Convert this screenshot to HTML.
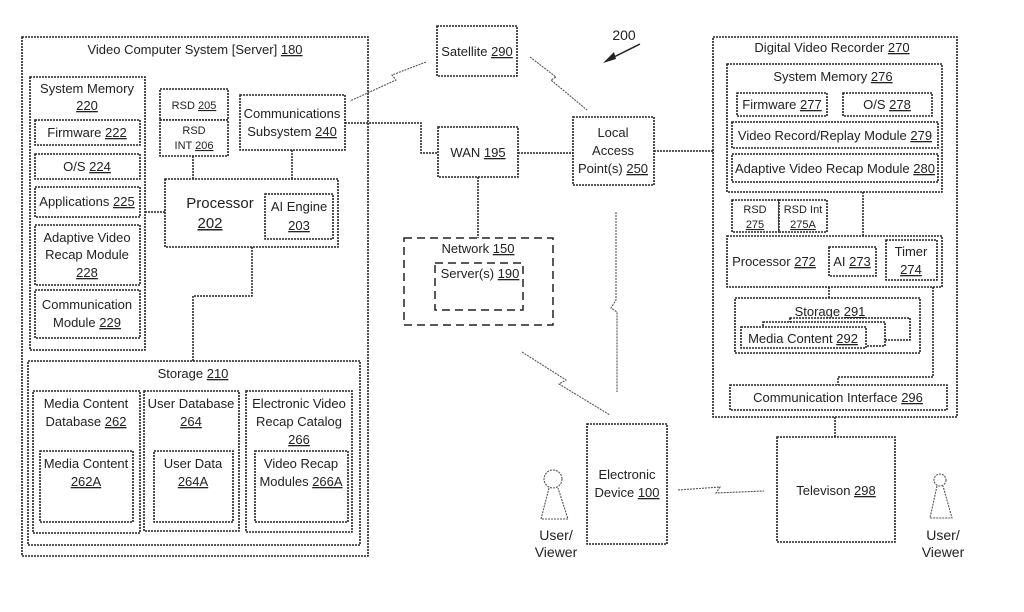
<!DOCTYPE html>
<html><head><meta charset="utf-8"><style>
html,body{margin:0;padding:0;background:#fff;}
svg{display:block;}
text{font-family:"Liberation Sans",sans-serif;font-size:13px;fill:#222;text-anchor:middle;}
.b{fill:#fff;stroke:#222;stroke-width:1.6;stroke-dasharray:2 1;}
.l{fill:none;stroke:#222;stroke-width:1.5;stroke-dasharray:2 1;}
.d{fill:none;stroke:#222;stroke-width:1.5;stroke-dasharray:8 5;}
.w{fill:none;stroke:#555;stroke-width:1.1;stroke-dasharray:2 1;}
</style></head><body>
<svg width="1024" height="612" viewBox="0 0 1024 612" xmlns="http://www.w3.org/2000/svg">
<rect class="b" x="22" y="37" width="346" height="519"/>
<text x="195" y="54">Video Computer System [Server] <tspan text-decoration="underline">180</tspan></text>
<rect class="b" x="30" y="77" width="115" height="273"/>
<text x="87" y="93">System Memory</text><text x="87" y="110" text-decoration="underline">220</text>
<rect class="b" x="35" y="120" width="105" height="25"/><text x="87" y="137">Firmware <tspan text-decoration="underline">222</tspan></text>
<rect class="b" x="35" y="154" width="105" height="25"/><text x="87" y="171">O/S <tspan text-decoration="underline">224</tspan></text>
<rect class="b" x="35" y="187" width="105" height="30"/><text x="87" y="206">Applications <tspan text-decoration="underline">225</tspan></text>
<rect class="b" x="35" y="225" width="105" height="60"/><text x="87" y="242">Adaptive Video</text><text x="87" y="259">Recap Module</text><text x="87" y="277" text-decoration="underline">228</text>
<rect class="b" x="35" y="290" width="105" height="48"/><text x="87" y="309">Communication</text><text x="87" y="327">Module <tspan text-decoration="underline">229</tspan></text>
<rect class="b" x="160" y="89" width="68" height="31"/><text x="194" y="109" style="font-size:11px">RSD <tspan text-decoration="underline">205</tspan></text>
<rect class="b" x="160" y="120" width="68" height="36"/><text x="194" y="134" style="font-size:11px">RSD</text><text x="194" y="149" style="font-size:11px">INT <tspan text-decoration="underline">206</tspan></text>
<rect class="b" x="240" y="95" width="105" height="55"/><text x="292" y="118">Communications</text><text x="292" y="136">Subsystem <tspan text-decoration="underline">240</tspan></text>
<rect class="b" x="165" y="179" width="173" height="68"/>
<text x="220" y="208" style="font-size:15px">Processor</text><text x="210" y="228" style="font-size:15px" text-decoration="underline">202</text>
<rect class="b" x="265" y="194" width="68" height="45"/><text x="299" y="211">AI Engine</text><text x="299" y="230" text-decoration="underline">203</text>
<path class="l" d="M193 156V179M292 150V179M145 212H165M252 247V296H193V361"/>
<rect class="b" x="28" y="361" width="332" height="184"/>
<text x="193" y="378">Storage <tspan text-decoration="underline">210</tspan></text>
<rect class="b" x="33" y="391" width="107" height="142"/><text x="86" y="408">Media Content</text><text x="86" y="426">Database <tspan text-decoration="underline">262</tspan></text>
<rect class="b" x="40" y="451" width="93" height="71"/><text x="86" y="468">Media Content</text><text x="86" y="486" text-decoration="underline">262A</text>
<rect class="b" x="144" y="391" width="95" height="140"/><text x="191" y="408">User Database</text><text x="191" y="426" text-decoration="underline">264</text>
<rect class="b" x="154" y="451" width="79" height="71"/><text x="193" y="468">User Data</text><text x="193" y="486" text-decoration="underline">264A</text>
<rect class="b" x="246" y="391" width="106" height="141"/><text x="299" y="408">Electronic Video</text><text x="299" y="426">Recap Catalog</text><text x="299" y="444" text-decoration="underline">266</text>
<rect class="b" x="255" y="451" width="93" height="71"/><text x="301" y="468">Video Recap</text><text x="301" y="486">Modules <tspan text-decoration="underline">266A</tspan></text>
<rect class="b" x="437" y="26" width="80" height="50"/><text x="477" y="56">Satellite <tspan text-decoration="underline">290</tspan></text>
<rect class="b" x="438" y="127" width="80" height="50"/><text x="478" y="157">WAN <tspan text-decoration="underline">195</tspan></text>
<rect class="b" x="573" y="117" width="81" height="68"/><text x="613" y="137">Local</text><text x="613" y="155">Access</text><text x="613" y="173">Point(s) <tspan text-decoration="underline">250</tspan></text>
<path class="l" d="M345 123H421V153H438M518 153H573M654 151H713M478 177V238"/>
<rect class="d" x="404" y="238" width="149" height="87"/><text x="478" y="253">Network <tspan text-decoration="underline">150</tspan></text>
<rect class="d" x="435" y="263" width="88" height="47"/><text x="480" y="278">Server(s) <tspan text-decoration="underline">190</tspan></text>
<text x="624" y="40" style="font-size:14px">200</text>
<path d="M640 44L608 60" stroke="#222" stroke-width="1.5"/><path d="M603 63L614 52L616 59Z" fill="#222"/>
<path class="w" d="M426 62L392 75L396 80L350 101"/>
<path class="w" d="M530 57L556 77L551 80L587 110"/>
<path class="w" d="M616 212V300L611 308L617 312V392"/>
<path class="w" d="M522 352L566 380L559 384L610 415"/>
<path class="w" d="M678 490L720 487L716 493L764 491"/>
<rect class="b" x="713" y="37" width="244" height="380"/>
<text x="832" y="52">Digital Video Recorder <tspan text-decoration="underline">270</tspan></text>
<rect class="b" x="727" y="64" width="215" height="128"/>
<text x="833" y="81">System Memory <tspan text-decoration="underline">276</tspan></text>
<rect class="b" x="737" y="93" width="90" height="23"/><text x="782" y="109">Firmware <tspan text-decoration="underline">277</tspan></text>
<rect class="b" x="843" y="93" width="89" height="23"/><text x="887" y="109">O/S <tspan text-decoration="underline">278</tspan></text>
<rect class="b" x="732" y="122" width="206" height="26"/><text x="835" y="140">Video Record/Replay Module <tspan text-decoration="underline">279</tspan></text>
<rect class="b" x="732" y="154" width="206" height="28"/><text x="835" y="173">Adaptive Video Recap Module <tspan text-decoration="underline">280</tspan></text>
<rect class="b" x="732" y="200" width="47" height="32"/><text x="755" y="213" style="font-size:11px">RSD</text><text x="755" y="228" style="font-size:11px" text-decoration="underline">275</text>
<rect class="b" x="779" y="200" width="48" height="32"/><text x="803" y="213" style="font-size:11px">RSD Int</text><text x="803" y="228" style="font-size:11px" text-decoration="underline">275A</text>
<path class="l" d="M863 192V236M829 287V298M933 287V377H838V385M835 417V437"/>
<rect class="b" x="727" y="236" width="215" height="51"/>
<text x="774" y="266">Processor <tspan text-decoration="underline">272</tspan></text>
<rect class="b" x="829" y="247" width="47" height="29"/><text x="852" y="266">AI <tspan text-decoration="underline">273</tspan></text>
<rect class="b" x="886" y="240" width="51" height="40"/><text x="911" y="256">Timer</text><text x="911" y="274" text-decoration="underline">274</text>
<rect class="b" x="735" y="298" width="185" height="55"/>
<text x="830" y="316">Storage <tspan text-decoration="underline">291</tspan></text>
<rect class="b" x="790" y="318" width="120" height="22"/>
<rect class="b" x="763" y="322" width="122" height="24"/>
<rect class="b" x="741" y="327" width="125" height="21"/><text x="803" y="343">Media Content <tspan text-decoration="underline">292</tspan></text>
<rect class="b" x="730" y="385" width="217" height="25"/><text x="838" y="402">Communication Interface <tspan text-decoration="underline">296</tspan></text>
<rect class="b" x="587" y="424" width="80" height="120"/><text x="627" y="479">Electronic</text><text x="627" y="497">Device <tspan text-decoration="underline">100</tspan></text>
<rect class="b" x="777" y="437" width="118" height="105"/><text x="836" y="495">Televison <tspan text-decoration="underline">298</tspan></text>
<circle class="w" cx="553" cy="479" r="9"/><path class="w" d="M549 488L541 519H568L558 488"/>
<text x="556" y="540" style="font-size:14px">User/</text><text x="556" y="557" style="font-size:14px">Viewer</text>
<circle class="w" cx="940" cy="480" r="6"/><path class="w" d="M937 486L930 518H952L943 486"/>
<text x="943" y="540" style="font-size:14px">User/</text><text x="943" y="557" style="font-size:14px">Viewer</text>
</svg>
</body></html>
